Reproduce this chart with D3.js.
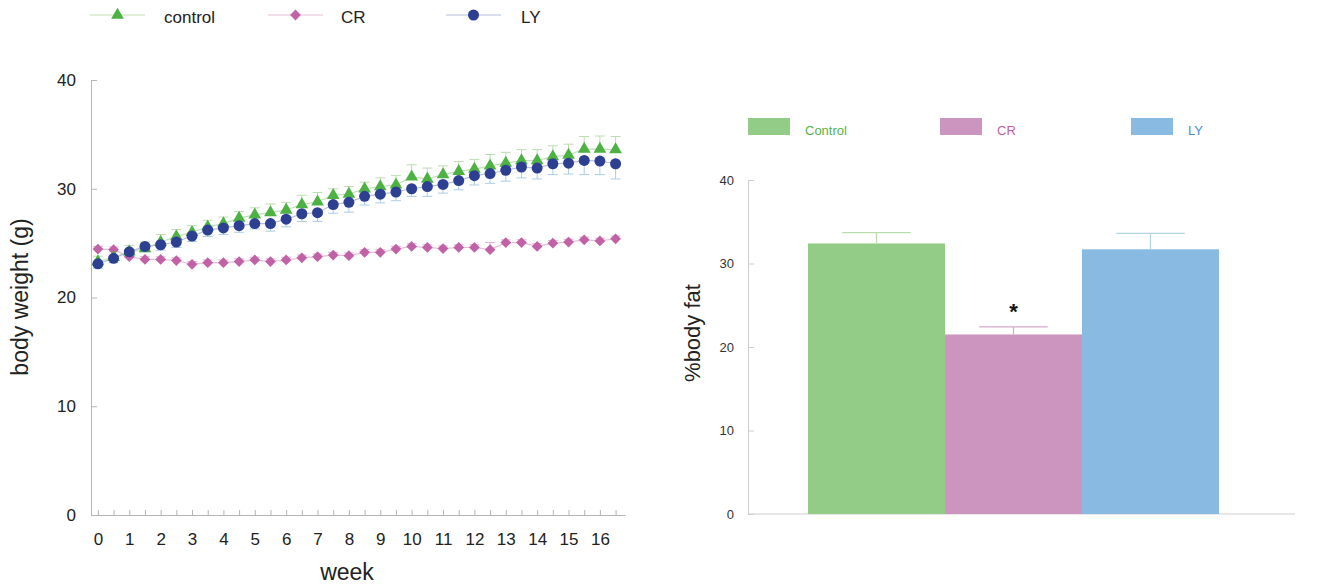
<!DOCTYPE html>
<html>
<head>
<meta charset="utf-8">
<script src="https://cdn.jsdelivr.net/npm/d3@7"></script>
<style>
  html, body { margin: 0; padding: 0; background: #fff; }
  svg { display: block; font-family: "Liberation Sans", Arial, Helvetica, sans-serif; }
</style>
</head>
<body>
<svg id="fig" width="1324" height="584"></svg>
<script>
// Body weight over time (weeks, half-week measurements)
const weeks = [0, 0.5, 1, 1.5, 2, 2.5, 3, 3.5, 4, 4.5, 5, 5.5, 6, 6.5, 7, 7.5, 8, 8.5,
               9, 9.5, 10, 10.5, 11, 11.5, 12, 12.5, 13, 13.5, 14, 14.5, 15, 15.5, 16, 16.5];
const weekLabels = [0, 1, 2, 3, 4, 5, 6, 7, 8, 9, 10, 11, 12, 13, 14, 15, 16];
const weightTicks = [0, 10, 20, 30, 40];

const controlWeight = [23.3, 23.7, 24.2, 24.5, 25.1, 25.6, 26.0, 26.5, 26.8, 27.3, 27.6, 27.8,
                       28.05, 28.55, 28.8, 29.4, 29.5, 30.0, 30.2, 30.35, 31.1, 30.9, 31.3, 31.6,
                       31.8, 32.1, 32.35, 32.6, 32.6, 32.95, 33.1, 33.65, 33.65, 33.6];
const controlSem = [0.5, 0.5, 0.6, 0.6, 0.7, 0.65, 0.6, 0.6, 0.6, 0.6, 0.65, 0.8,
                    0.7, 0.85, 0.85, 0.6, 0.7, 0.6, 0.8, 0.85, 1.1, 1.0, 0.8, 0.9,
                    0.9, 1.05, 1.0, 1.0, 1.0, 1.0, 1.0, 1.15, 1.2, 1.2];

const crWeight = [24.45, 24.4, 23.75, 23.5, 23.5, 23.4, 23.05, 23.2, 23.2, 23.3, 23.45, 23.3,
                  23.45, 23.65, 23.75, 23.9, 23.85, 24.15, 24.15, 24.45, 24.7, 24.6, 24.5, 24.6,
                  24.6, 24.4, 25.05, 25.05, 24.7, 25.0, 25.1, 25.3, 25.2, 25.4];
const crSem = [0.25, 0.25, 0.25, 0.25, 0.25, 0.25, 0.25, 0.25, 0.25, 0.25, 0.25, 0.25,
               0.25, 0.25, 0.25, 0.25, 0.25, 0.25, 0.25, 0.25, 0.25, 0.25, 0.25, 0.25,
               0.25, 0.65, 0.25, 0.25, 0.25, 0.25, 0.25, 0.25, 0.25, 0.25];

const lyWeight = [23.1, 23.6, 24.2, 24.7, 24.85, 25.1, 25.65, 26.2, 26.4, 26.6, 26.8, 26.8,
                  27.2, 27.7, 27.8, 28.55, 28.75, 29.3, 29.5, 29.7, 30.0, 30.2, 30.4, 30.75,
                  31.2, 31.4, 31.7, 32.0, 31.9, 32.3, 32.35, 32.6, 32.55, 32.3];
const lySem = [0.4, 0.4, 0.4, 0.5, 0.5, 0.5, 0.5, 0.6, 0.6, 0.6, 0.5, 0.7,
               0.7, 0.7, 0.8, 0.8, 0.9, 0.8, 0.8, 0.8, 0.7, 0.9, 0.8, 0.85,
               0.85, 0.9, 1.0, 1.0, 1.0, 1.0, 1.0, 1.3, 1.25, 1.4];

// Percent body fat at end of study
const fatGroups = ["Control", "CR", "LY"];
const fatMean = [32.4, 21.5, 31.7];
const fatSem = [1.3, 0.9, 1.9];
const fatTicks = [0, 10, 20, 30, 40];

const svg = d3.select("#fig");

// ---------- Left panel: body weight ----------
const x = d3.scaleLinear().domain([-0.22, 16.8]).range([91, 625]);
const y = d3.scaleLinear().domain([0, 40]).range([515, 80]);

const left = svg.append("g");

const yAxis = left.append("g")
  .attr("transform", `translate(${x.range()[0]},0)`)
  .call(d3.axisLeft(y).tickValues(weightTicks).tickSizeInner(-6).tickSizeOuter(0).tickPadding(15));
yAxis.select(".domain").attr("stroke", "#b5b5b5");
yAxis.selectAll(".tick line").attr("stroke", "#b5b5b5");
yAxis.selectAll(".tick text").attr("font-size", 17).attr("fill", "#222");

const xAxis = left.append("g")
  .attr("transform", `translate(0,${y(0)})`)
  .call(d3.axisBottom(x).tickValues(weeks).tickSizeInner(-5).tickSizeOuter(0).tickFormat(() => ""));
xAxis.select(".domain").attr("stroke", "#b5b5b5");
xAxis.selectAll(".tick line").attr("stroke", "#b5b5b5");

const xLabels = left.append("g")
  .attr("transform", `translate(0,${y(0)})`)
  .call(d3.axisBottom(x).tickValues(weekLabels).tickSize(0).tickPadding(18));
xLabels.select(".domain").remove();
xLabels.selectAll(".tick text").attr("font-size", 17).attr("fill", "#222");

left.append("text")
  .attr("x", 347).attr("y", 580)
  .attr("text-anchor", "middle").attr("font-size", 23).attr("fill", "#222")
  .text("week");
left.append("text")
  .attr("transform", "translate(28,297) rotate(-90)")
  .attr("text-anchor", "middle").attr("font-size", 23).attr("fill", "#222")
  .text("body weight (g)");

// rotated square gives an even diamond marker
const diamond = {
  draw(ctx, size) {
    const r = Math.sqrt(size / 2);
    ctx.moveTo(0, -r); ctx.lineTo(r, 0); ctx.lineTo(0, r); ctx.lineTo(-r, 0); ctx.closePath();
  }
};

const series = [
  { name: "CR", values: crWeight, sem: crSem, line: "#e6bcd8", err: "#e2b4d2", fill: "#c262a6", shape: diamond, size: 58, up: true },
  { name: "control", values: controlWeight, sem: controlSem, line: "#bfe0b6", err: "#bcdcb2", fill: "#4db144", shape: d3.symbolTriangle, size: 70, up: true },
  { name: "LY", values: lyWeight, sem: lySem, line: "#b3bde0", err: "#aacde6", fill: "#2c3f91", shape: d3.symbolCircle, size: 95, up: false }
];

const lineGen = d3.line().x((d, i) => x(weeks[i])).y(d => y(d));

// error bars and connecting lines first
series.forEach(s => {
  const g = left.append("g");
  s.values.forEach((v, i) => {
    const cx = x(weeks[i]);
    const end = s.up ? y(v + s.sem[i]) : y(v - s.sem[i]);
    g.append("line").attr("x1", cx).attr("x2", cx).attr("y1", y(v)).attr("y2", end)
      .attr("stroke", s.err).attr("stroke-width", 1);
    g.append("line").attr("x1", cx - 5).attr("x2", cx + 5).attr("y1", end).attr("y2", end)
      .attr("stroke", s.err).attr("stroke-width", 1);
  });
  g.append("path").datum(s.values).attr("d", lineGen)
    .attr("fill", "none").attr("stroke", s.line).attr("stroke-width", 1.2);
});

// markers on top
series.forEach(s => {
  const sym = d3.symbol().type(s.shape).size(s.size);
  left.append("g").selectAll("path").data(s.values).join("path")
    .attr("d", sym)
    .attr("transform", (d, i) => `translate(${x(weeks[i])},${y(d)})`)
    .attr("fill", s.fill);
});

// legend
const legendItems = [
  { label: "control", x0: 90, tx: 164, s: series[1] },
  { label: "CR", x0: 268, tx: 341, s: series[0] },
  { label: "LY", x0: 446, tx: 521, s: series[2] }
];
legendItems.forEach(it => {
  const g = svg.append("g");
  g.append("line").attr("x1", it.x0).attr("x2", it.x0 + 55).attr("y1", 15).attr("y2", 15)
    .attr("stroke", it.s.line).attr("stroke-width", 1.2);
  g.append("path").attr("d", d3.symbol().type(it.s.shape).size(it.s.size)())
    .attr("transform", `translate(${it.x0 + 27.5},15)`)
    .attr("fill", it.s.fill);
  g.append("text").attr("x", it.tx).attr("y", 23).attr("font-size", 17).attr("fill", "#222").text(it.label);
});

// ---------- Right panel: body fat ----------
const xb = d3.scaleBand().domain(fatGroups).range([808, 1219]).paddingInner(0).paddingOuter(0);
const yb = d3.scaleLinear().domain([0, 40]).range([514, 180]);
const barFill = ["#92cc86", "#cc95bf", "#88bae2"];
const barErr = ["#b6ddab", "#d6a9cb", "#b3d3e6"];
const legendText = ["#55b34b", "#c35fa4", "#4a8ccc"];

const right = svg.append("g");

const ybAxis = right.append("g")
  .attr("transform", "translate(748,0)")
  .call(d3.axisLeft(yb).tickValues(fatTicks).tickSizeInner(-6).tickSizeOuter(0).tickPadding(14));
ybAxis.select(".domain").attr("stroke", "#cfcfcf");
ybAxis.selectAll(".tick line").attr("stroke", "#cfcfcf");
ybAxis.selectAll(".tick text").attr("font-size", 13).attr("fill", "#333");

right.append("line").attr("x1", 748).attr("x2", 1295).attr("y1", yb(0)).attr("y2", yb(0))
  .attr("stroke", "#cfcfcf").attr("stroke-width", 1);

right.append("g").selectAll("rect").data(fatMean).join("rect")
  .attr("x", (d, i) => xb(fatGroups[i]))
  .attr("y", d => yb(d))
  .attr("width", xb.bandwidth())
  .attr("height", d => yb(0) - yb(d))
  .attr("fill", (d, i) => barFill[i]);

fatMean.forEach((m, i) => {
  const cx = xb(fatGroups[i]) + xb.bandwidth() / 2;
  const top = yb(m + fatSem[i]);
  right.append("line").attr("x1", cx).attr("x2", cx).attr("y1", yb(m)).attr("y2", top)
    .attr("stroke", barErr[i]).attr("stroke-width", 1.2);
  right.append("line").attr("x1", cx - xb.bandwidth() / 4).attr("x2", cx + xb.bandwidth() / 4)
    .attr("y1", top).attr("y2", top).attr("stroke", barErr[i]).attr("stroke-width", 1.2);
});

// significance marker over CR
right.append("text")
  .attr("x", xb("CR") + xb.bandwidth() / 2).attr("y", yb(fatMean[1] + fatSem[1]) - 8)
  .attr("text-anchor", "middle").attr("font-size", 22).attr("font-weight", "bold").attr("fill", "#111")
  .text("*");

right.append("text")
  .attr("transform", "translate(700,333) rotate(-90)")
  .attr("text-anchor", "middle").attr("font-size", 22).attr("fill", "#222")
  .text("%body fat");

const barLegendX = [748, 940, 1131];
fatGroups.forEach((g, i) => {
  right.append("rect").attr("x", barLegendX[i]).attr("y", 118).attr("width", 42).attr("height", 17)
    .attr("fill", barFill[i]);
  right.append("text").attr("x", barLegendX[i] + 57).attr("y", 135)
    .attr("font-size", 13).attr("fill", legendText[i]).text(g);
});
</script>
</body>
</html>
